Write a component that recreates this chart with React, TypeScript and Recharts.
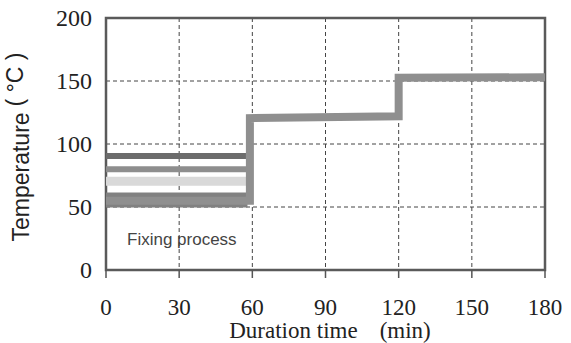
import React from 'react';
import {
  ComposedChart,
  Line,
  XAxis,
  YAxis,
  CartesianGrid,
  ReferenceArea,
  Label,
} from 'recharts';

// time (min) / temperature (°C) points
const stepTimes = [0, 59, 59, 120, 120, 180];
const stepTemps = [55, 55, 120.5, 122, 152.5, 153];

const bandEnd = 58;
const bandTemps = [90.5, 80, 70.5, 55.5];
const bandColors = ['#6c6c6c', '#8e8e8e', '#d9d9d9', '#818181'];
const bandWidths = [6, 6, 9, 15];

const xTicks = [0, 30, 60, 90, 120, 150, 180];
const yTicks = [0, 50, 100, 150, 200];

const stepData = stepTimes.map((t, i) => ({ t, v: stepTemps[i] }));
const bands = bandTemps.map((v, i) => ({
  data: [{ t: 0, v }, { t: bandEnd, v }],
  color: bandColors[i],
  width: bandWidths[i],
}));

const SERIF = '"Liberation Serif", "DejaVu Serif", serif';
const SANS = '"Liberation Sans", Arial, sans-serif';

const XTick = ({ x, y, payload }: any) => (
  <g>
    <line x1={x} y1={y} x2={x} y2={y - 8} stroke="#555" strokeWidth={1.5} />
    <text x={x} y={y + 37} textAnchor="middle" fontFamily={SERIF} fontSize={23} fill="#222">
      {payload.value}
    </text>
  </g>
);

const YTick = ({ x, y, payload }: any) => (
  <text x={x - 6} y={y + 8} textAnchor="end" fontFamily={SERIF} fontSize={24} fill="#222">
    {payload.value}
  </text>
);

const YTitle = () => (
  <text
    x={29}
    y={147}
    transform="rotate(-90 29 147)"
    textAnchor="middle"
    fontFamily={SANS}
    fontSize={23}
    fill="#222"
  >
    <tspan>Temperature</tspan>
    <tspan dx={6} dy={-6}>( °C )</tspan>
  </text>
);

const XTitle = () => (
  <text x={330} y={338} textAnchor="middle" fontFamily={SERIF} fontSize={23} fill="#222">
    <tspan>Duration time</tspan>
    <tspan dx={22}>(min)</tspan>
  </text>
);

export default function App() {
  return (
    <div style={{ position: 'absolute', left: 0, top: 0, width: 571, height: 343, background: '#fff' }}>
      <ComposedChart width={571} height={343} margin={{ top: 18, right: 26, bottom: 0, left: 0 }}>
        <CartesianGrid stroke="#444" strokeDasharray="4 3" horizontalValues={[50, 100, 150]} verticalValues={[30, 60, 90, 120, 150]} />
        <XAxis
          type="number"
          dataKey="t"
          domain={[0, 180]}
          ticks={xTicks}
          height={73}
          axisLine={false}
          tickLine={false}
          tick={<XTick />}
          interval={0}
        >
          <Label content={<XTitle />} />
        </XAxis>
        <YAxis
          type="number"
          domain={[0, 200]}
          ticks={yTicks}
          width={106}
          axisLine={false}
          tickLine={false}
          tick={<YTick />}
          interval={0}
        >
          <Label content={<YTitle />} />
        </YAxis>
        {bands.map((b, i) => (
          <Line
            key={`band-${i}`}
            data={b.data}
            dataKey="v"
            stroke={b.color}
            strokeWidth={b.width}
            dot={false}
            isAnimationActive={false}
          />
        ))}
        <Line
          data={stepData}
          dataKey="v"
          stroke="#8f8f8f"
          strokeWidth={8}
          strokeLinejoin="miter"
          dot={false}
          isAnimationActive={false}
        />
        <ReferenceArea
          x1={0}
          x2={180}
          y1={0}
          y2={200}
          fill="none"
          stroke="#5a5a5a"
          strokeWidth={2.5}
          ifOverflow="visible"
        >
          <Label
            value="Fixing process"
            position="insideBottomLeft"
            offset={21}
            dy={-4}
            fontFamily={SANS}
            fontSize={17}
            fill="#444"
          />
        </ReferenceArea>
      </ComposedChart>
    </div>
  );
}
